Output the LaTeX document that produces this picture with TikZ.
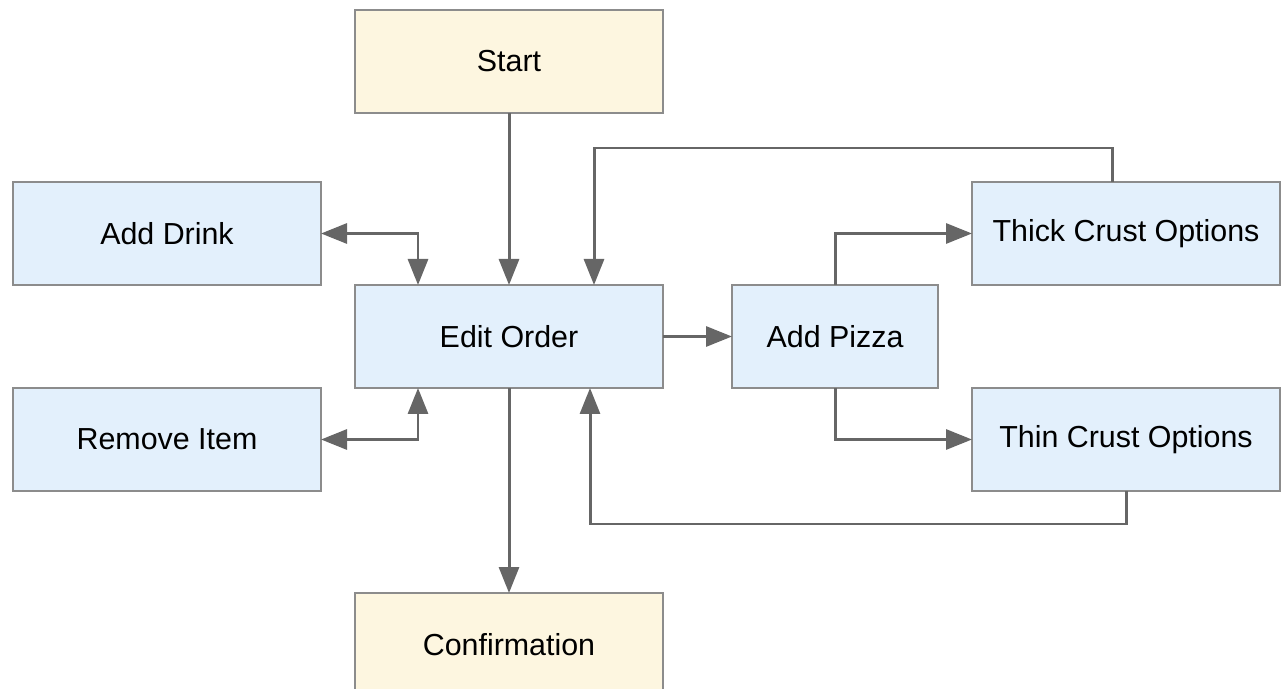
\documentclass[tikz,border=0pt]{standalone}
\usepackage{fontspec}
\setmainfont{Liberation Sans}
\usetikzlibrary{arrows.meta,positioning}
\definecolor{boxline}{HTML}{8C8C8C}
\definecolor{wireline}{HTML}{666666}
\definecolor{softblue}{HTML}{E3F0FC}
\definecolor{softsand}{HTML}{FDF6E0}
\tikzset{
  stepbox/.style={draw=boxline,line width=0.8pt,fill=softblue,minimum width=6.16cm,minimum height=2.06cm,align=center,font=\fontsize{17.3}{20}\selectfont,inner sep=0pt,outer sep=0pt},
  endbox/.style={stepbox,fill=softsand},
  arrow/.style={-{Triangle[length=0.52cm,width=0.4cm]},line width=1.7pt,wireline},
  biarrow/.style={{Triangle[length=0.52cm,width=0.4cm]}-{Triangle[length=0.52cm,width=0.4cm]},line width=1.7pt,wireline}
}

\begin{document}
\begin{tikzpicture}
  \useasboundingbox (0,0) rectangle (25.64,-13.78);

  \node[endbox] (start) at (10.18,-1.23) {Start};
  \node[stepbox,below=3.44cm of start] (edit) {Edit Order};
  \node[endbox,below=4.1cm of edit] (confirm) {Confirmation};
  \node[stepbox,above left=0cm and 0.68cm of edit] (drink) {Add Drink};
  \node[stepbox,below left=0cm and 0.68cm of edit] (remove) {Remove Item};
  \node[stepbox,minimum width=4.12cm,right=1.38cm of edit] (pizza) {Add Pizza};
  \node[stepbox,above right=0cm and 0.68cm of pizza] (thick) {Thick Crust Options};
  \node[stepbox,below right=0cm and 0.68cm of pizza] (thin) {Thin Crust Options};

  \draw[arrow] (start) -- (edit);
  \draw[arrow] (edit) -- (confirm);
  \draw[arrow] (edit) -- (pizza);
  \draw[biarrow] (drink.east) -| ([xshift=1.26cm]edit.north west);
  \draw[biarrow] (remove.east) -| ([xshift=1.26cm]edit.south west);
  \draw[arrow] (pizza.north) |- (thick.west);
  \draw[arrow] (pizza.south) |- (thin.west);

  % crust choices loop back into the order
  \draw[arrow] ([xshift=-0.28cm]thick.north) -- ++(0,0.68) -| ([xshift=1.7cm]edit.north);
  \draw[arrow] (thin.south) -- ++(0,-0.66) -| ([xshift=1.62cm]edit.south);
\end{tikzpicture}
\end{document}
